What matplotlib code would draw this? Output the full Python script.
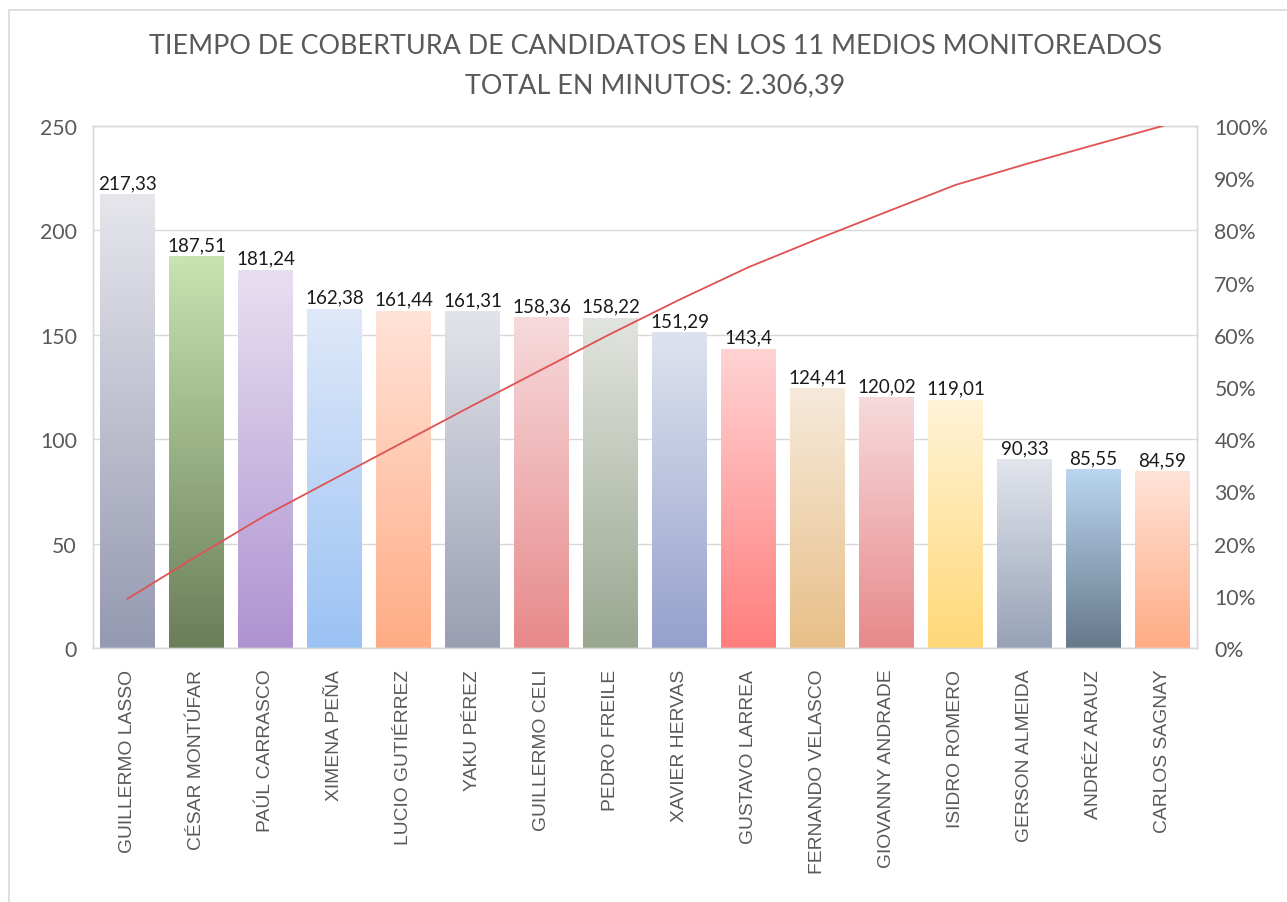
import numpy as np
import matplotlib
matplotlib.use("Agg")
import matplotlib.pyplot as plt
from matplotlib.colors import LinearSegmentedColormap
from matplotlib.patches import Rectangle
from matplotlib.ticker import FuncFormatter

candidates = ["GUILLERMO LASSO", "CÉSAR MONTÚFAR", "PAÚL CARRASCO", "XIMENA PEÑA",
              "LUCIO GUTIÉRREZ", "YAKU PÉREZ", "GUILLERMO CELI", "PEDRO FREILE",
              "XAVIER HERVAS", "GUSTAVO LARREA", "FERNANDO VELASCO", "GIOVANNY ANDRADE",
              "ISIDRO ROMERO", "GERSON ALMEIDA", "ANDRÉZ ARAUZ", "CARLOS SAGNAY"]
minutes = [217.33, 187.51, 181.24, 162.38, 161.44, 161.31, 158.36, 158.22,
           151.29, 143.4, 124.41, 120.02, 119.01, 90.33, 85.55, 84.59]
value_labels = ["217,33", "187,51", "181,24", "162,38", "161,44", "161,31", "158,36", "158,22",
                "151,29", "143,4", "124,41", "120,02", "119,01", "90,33", "85,55", "84,59"]
top_colors = ["#e6e6ec", "#c8e4b2", "#e8e0f1", "#dfe9f9", "#ffe3d8", "#e2e4ea", "#f6dadc", "#e2e4df",
              "#dfe3ef", "#ffd3d3", "#f6eadb", "#f6dadc", "#fff3d8", "#e2e5ec", "#bad6f0", "#ffe3d8"]
bottom_colors = ["#9599b1", "#6a7e59", "#ae93d1", "#9bc2f4", "#ffac85", "#999eb2", "#e8898a", "#99a78f",
                 "#95a1cc", "#ff7e7e", "#e8bf88", "#e8898a", "#ffd877", "#97a2b7", "#66798b", "#ffac85"]
title_lines = ["TIEMPO DE COBERTURA DE CANDIDATOS EN LOS 11 MEDIOS MONITOREADOS",
               "TOTAL EN MINUTOS: 2.306,39"]

W, H = 1287, 903
fig = plt.figure(figsize=(W / 100, H / 100), dpi=100)
fig.patch.set_facecolor("white")

# outer chart border
fig.patches.append(Rectangle((9 / W, -0.1), 1.2, 1 - 11 / H + 0.1, transform=fig.transFigure,
                             fill=False, edgecolor="#d9d9d9", linewidth=1.2))

left, right, top, bottom = 93, 1197, 127, 649
ax = fig.add_axes([left / W, 1 - bottom / H, (right - left) / W, (bottom - top) / H])
ax2 = ax.twinx()

font = "Lato"
label_font = "Liberation Sans"
gray = "#595959"

x = np.arange(len(minutes))
bars = ax.bar(x, minutes, width=0.79, color="none", edgecolor="none", zorder=2)
grad = np.linspace(0, 1, 256).reshape(-1, 1)
for b, c_top, c_bot in zip(bars, top_colors, bottom_colors):
    cmap = LinearSegmentedColormap.from_list("g", [c_bot, c_top])
    x0, y0 = b.get_x(), b.get_y()
    w, h = b.get_width(), b.get_height()
    im = ax.imshow(grad, cmap=cmap, aspect="auto", origin="lower",
                   extent=(x0, x0 + w, y0, y0 + h), zorder=2, interpolation="bilinear")
    im.set_clip_path(b)

for xi, v, lab in zip(x, minutes, value_labels):
    ax.text(xi, v + 1.5, lab, ha="center", va="bottom", fontsize=13.5, family=font, color="#1a1a1a")

ax.set_xlim(-0.5, len(minutes) - 0.5)
ax.set_ylim(0, 250)
ax.set_yticks([0, 50, 100, 150, 200, 250])
ax.grid(axis="y", color="#d9d9d9", linewidth=1.0, zorder=0)
ax.set_axisbelow(True)
ax.set_xticks(x)
ax.set_xticklabels(candidates, rotation=90, family=label_font, fontsize=13.9, color=gray)
ax.tick_params(axis="x", length=0, pad=15)
ax.tick_params(axis="y", length=0, pad=11.5, labelsize=15.3, labelcolor=gray)
for lbl in ax.get_yticklabels():
    lbl.set_family(font)

cum = np.cumsum(minutes) / np.sum(minutes)
ax2.plot(x, cum, color="#e05252", linewidth=1.3, zorder=3)
ax2.set_ylim(0, 1)
ax2.set_yticks(np.linspace(0, 1, 11))
ax2.yaxis.set_major_formatter(FuncFormatter(lambda v, p: f"{round(v * 100)}%"))
ax2.tick_params(axis="y", length=0, pad=12.5, labelsize=15.3, labelcolor=gray)
for lbl in ax2.get_yticklabels():
    lbl.set_family(font)

for a in (ax, ax2):
    for s in a.spines.values():
        s.set_color("#d9d9d9")
        s.set_linewidth(1.0)

fig.text(655 / W, 1 - 46 / H, title_lines[0], ha="center", va="center", fontsize=19.4,
         family=font, color=gray)
fig.text(655 / W, 1 - 86 / H, title_lines[1], ha="center", va="center", fontsize=19.4,
         family=font, color=gray)

fig.savefig("out.png", dpi=100, facecolor="white")
